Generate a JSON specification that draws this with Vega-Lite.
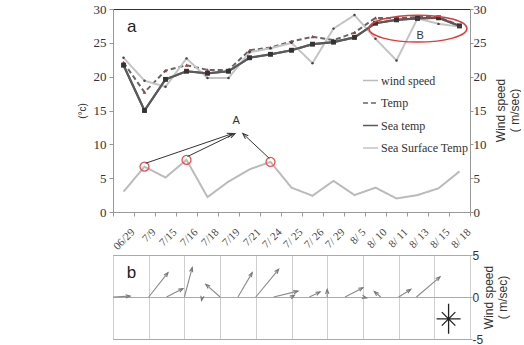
{
  "$schema": "https://vega.github.io/schema/vega-lite/v6.json",
  "background": "white",
  "padding": {"left": 76, "top": 2, "right": 0, "bottom": 0},
  "spacing": 43,
  "bounds": "flush",
  "config": {"font": "Liberation Serif"},
  "datasets": {
    "daily": [
      {"i": 0, "date": "06/29", "wind speed": 3.0, "Temp": 22.1, "Sea temp": 21.7, "Sea Surface Temp": 22.8},
      {"i": 1, "date": "7/9", "wind speed": 6.7, "Temp": 17.7, "Sea temp": 15.0, "Sea Surface Temp": 19.4},
      {"i": 2, "date": "7/15", "wind speed": 5.1, "Temp": 20.9, "Sea temp": 19.6, "Sea Surface Temp": 18.5},
      {"i": 3, "date": "7/16", "wind speed": 7.7, "Temp": 21.7, "Sea temp": 20.8, "Sea Surface Temp": 22.7},
      {"i": 4, "date": "7/18", "wind speed": 2.2, "Temp": 21.0, "Sea temp": 20.5, "Sea Surface Temp": 19.8},
      {"i": 5, "date": "7/19", "wind speed": 4.5, "Temp": 21.0, "Sea temp": 20.8, "Sea Surface Temp": 19.8},
      {"i": 6, "date": "7/21", "wind speed": 6.3, "Temp": 23.9, "Sea temp": 22.8, "Sea Surface Temp": 23.6},
      {"i": 7, "date": "7/ 24", "wind speed": 7.4, "Temp": 24.3, "Sea temp": 23.3, "Sea Surface Temp": 24.2},
      {"i": 8, "date": "7/ 25", "wind speed": 3.6, "Temp": 25.2, "Sea temp": 23.9, "Sea Surface Temp": 25.0},
      {"i": 9, "date": "7/ 26", "wind speed": 2.4, "Temp": 25.9, "Sea temp": 24.8, "Sea Surface Temp": 22.0},
      {"i": 10, "date": "7/ 29", "wind speed": 4.6, "Temp": 25.4, "Sea temp": 25.1, "Sea Surface Temp": 27.1},
      {"i": 11, "date": "8/ 5", "wind speed": 2.5, "Temp": 26.5, "Sea temp": 25.8, "Sea Surface Temp": 29.1},
      {"i": 12, "date": "8/ 10", "wind speed": 3.6, "Temp": 28.7, "Sea temp": 27.9, "Sea Surface Temp": 25.6},
      {"i": 13, "date": "8/ 11", "wind speed": 2.0, "Temp": 28.6, "Sea temp": 28.4, "Sea Surface Temp": 22.4},
      {"i": 14, "date": "8/ 13", "wind speed": 2.5, "Temp": 28.8, "Sea temp": 28.6, "Sea Surface Temp": 28.6},
      {"i": 15, "date": "8/ 15", "wind speed": 3.5, "Temp": 28.8, "Sea temp": 28.7, "Sea Surface Temp": 27.8},
      {"i": 16, "date": "8/ 18", "wind speed": 6.0, "Temp": 27.6, "Sea temp": 27.5, "Sea Surface Temp": 27.4}
    ],
    "pointers": [
      {"i0": 1.05, "v0": 7.2, "i1": 5.2, "v1": 11.6, "dir": 71},
      {"i0": 3.05, "v0": 8.2, "i1": 5.31, "v1": 11.6, "dir": 64},
      {"i0": 6.95, "v0": 7.9, "i1": 5.68, "v1": 11.6, "dir": -47}
    ],
    "notes": [
      {"i": 0.39, "v": 27.3, "label": "a", "kind": "panel"},
      {"i": 5.36, "v": 13.4, "label": "A", "kind": "mark"},
      {"i": 14.13, "v": 26.0, "label": "B", "kind": "mark"}
    ],
    "vectors": [
      {"day": 0, "tipDay": 2.4, "base": 0, "v": 0.1, "dir": 87},
      {"day": 5, "tipDay": 7.7, "base": 0, "v": 2.9, "dir": 38},
      {"day": 7.5, "tipDay": 9.8, "base": 0, "v": 1.0, "dir": 63},
      {"day": 10, "tipDay": 11.1, "base": 0, "v": 3.5, "dir": 15},
      {"day": 12.5, "tipDay": 12.4, "base": 0, "v": -0.4, "dir": 192},
      {"day": 15, "tipDay": 13.0, "base": 0, "v": 1.5, "dir": -49},
      {"day": 17.5, "tipDay": 19.5, "base": 0, "v": 2.9, "dir": 30},
      {"day": 20, "tipDay": 23.2, "base": 0, "v": 3.3, "dir": 40},
      {"day": 22.5, "tipDay": 25.9, "base": 0, "v": 0.7, "dir": 76},
      {"day": 25, "tipDay": 25.4, "base": 0, "v": 0.2, "dir": 60},
      {"day": 27.5, "tipDay": 29.0, "base": 0, "v": 0.6, "dir": 65},
      {"day": 30, "tipDay": 30.0, "base": 0, "v": 0.9, "dir": 0},
      {"day": 32.5, "tipDay": 35.0, "base": 0, "v": 1.1, "dir": 63},
      {"day": 35, "tipDay": 35.5, "base": 0, "v": -0.1, "dir": 103},
      {"day": 37.5, "tipDay": 36.6, "base": 0, "v": 0.65, "dir": -49},
      {"day": 40, "tipDay": 41.7, "base": 0, "v": 0.9, "dir": 58},
      {"day": 42.5, "tipDay": 45.8, "base": 0, "v": 2.4, "dir": 49}
    ]
  },
  "vconcat": [
    {
      "width": 357,
      "height": 203,
      "view": {"stroke": "#333"},
      "resolve": {"scale": {"x": "independent"}, "axis": {"x": "independent", "y": "independent"}},
      "layer": [
        {
          "data": {"name": "daily"},
          "transform": [{"fold": ["wind speed", "Temp", "Sea temp", "Sea Surface Temp"], "as": ["series", "value"]}],
          "mark": {"type": "line"},
          "encoding": {
            "x": {
              "field": "date", "type": "ordinal", "sort": null,
              "scale": {"type": "band", "paddingInner": 0, "paddingOuter": 0},
              "axis": {
                "title": null, "grid": false, "tickBand": "extent",
                "labelAngle": -45, "labelAlign": "right", "labelBaseline": "top",
                "labelFont": "Liberation Serif", "labelFontSize": 11, "labelColor": "#444",
                "labelPadding": 10, "labelOffset": 5, "labelOverlap": false,
                "tickSize": 4, "tickColor": "#999", "domainColor": "#999"
              }
            },
            "y": {
              "field": "value", "type": "quantitative",
              "scale": {"domain": [0, 30], "nice": false},
              "axis": {
                "orient": "left", "values": [0, 5, 10, 15, 20, 25, 30], "grid": false,
                "title": "(°c)", "titleFont": "Liberation Sans", "titleFontSize": 10, "titleFontWeight": "normal", "titleColor": "#333", "titlePadding": 6,
                "labelFont": "Liberation Serif", "labelFontSize": 13, "labelColor": "#333", "labelPadding": 3,
                "tickSize": 4, "tickColor": "#999", "domainColor": "#999"
              }
            },
            "color": {
              "field": "series", "type": "nominal",
              "scale": {"domain": ["wind speed", "Temp", "Sea temp", "Sea Surface Temp"], "range": ["#bbbbbb", "#666666", "#5a5a5a", "#c4c4c4"]},
              "legend": {"orient": "none", "legendX": 249, "legendY": 63, "title": null, "labelFont": "Liberation Serif", "labelFontSize": 12, "labelColor": "#333", "symbolType": "stroke", "symbolSize": 225, "symbolStrokeWidth": 1.5, "rowPadding": 7.5, "padding": 0, "labelOffset": 2}
            },
            "strokeDash": {
              "field": "series", "type": "nominal",
              "scale": {"domain": ["wind speed", "Temp", "Sea temp", "Sea Surface Temp"], "range": [[1, 0], [5, 3], [1, 0], [1, 0]]},
              "legend": {"orient": "none", "legendX": 249, "legendY": 63, "title": null, "labelFont": "Liberation Serif", "labelFontSize": 12, "labelColor": "#333", "symbolType": "stroke", "symbolSize": 225, "symbolStrokeWidth": 1.5, "rowPadding": 7.5, "padding": 0, "labelOffset": 2}
            }
          }
        },
        {
          "data": {"name": "daily"},
          "mark": {"type": "line", "color": "#5a5a5a", "strokeWidth": 2.2},
          "encoding": {
            "x": {"field": "date", "type": "ordinal", "sort": null, "scale": {"type": "band", "paddingInner": 0, "paddingOuter": 0}, "axis": null},
            "y": {"field": "Sea temp", "type": "quantitative", "axis": null}
          }
        },
        {
          "data": {"name": "daily"},
          "mark": {"type": "point", "shape": "triangle-up", "filled": true, "color": "#a0413f", "size": 14, "opacity": 1},
          "encoding": {
            "x": {"field": "date", "type": "ordinal", "sort": null, "scale": {"type": "band", "paddingInner": 0, "paddingOuter": 0}, "axis": null},
            "y": {"field": "Temp", "type": "quantitative", "axis": null}
          }
        },
        {
          "data": {"name": "daily"},
          "mark": {"type": "point", "shape": "square", "filled": true, "color": "#333333", "size": 24, "opacity": 1},
          "encoding": {
            "x": {"field": "date", "type": "ordinal", "sort": null, "scale": {"type": "band", "paddingInner": 0, "paddingOuter": 0}, "axis": null},
            "y": {"field": "Sea temp", "type": "quantitative", "axis": null}
          }
        },
        {
          "data": {"name": "daily"},
          "mark": {"type": "point", "shape": "circle", "filled": true, "color": "#444444", "size": 6, "opacity": 1},
          "encoding": {
            "x": {"field": "date", "type": "ordinal", "sort": null, "scale": {"type": "band", "paddingInner": 0, "paddingOuter": 0}, "axis": null},
            "y": {"field": "Sea Surface Temp", "type": "quantitative", "axis": null}
          }
        },
        {
          "data": {"name": "daily"},
          "transform": [{"filter": {"field": "date", "oneOf": ["7/9", "7/16", "7/ 24"]}}],
          "mark": {"type": "point", "shape": "circle", "filled": false, "stroke": "#e8524f", "strokeWidth": 1.3, "size": 80, "opacity": 1},
          "encoding": {
            "x": {"field": "i", "type": "quantitative", "scale": {"domain": [-0.5, 16.5], "nice": false, "zero": false}, "axis": null},
            "y": {
              "field": "wind speed", "type": "quantitative",
              "axis": {
                "orient": "right", "values": [0, 5, 10, 15, 20, 25, 30], "grid": false,
                "title": ["Wind speed", "( m/sec)"], "titleAngle": 270, "titleAlign": "center", "titleBaseline": "top", "titleX": 25, "titleY": 101,
                "titleFont": "Liberation Sans", "titleFontSize": 12, "titleFontWeight": "normal", "titleColor": "#333",
                "labelFont": "Liberation Serif", "labelFontSize": 13, "labelColor": "#333", "labelPadding": 0,
                "tickSize": 3, "tickColor": "#999", "domainColor": "#999"
              }
            }
          }
        },
        {
          "data": {"name": "pointers"},
          "mark": {"type": "rule", "color": "#333", "strokeWidth": 1},
          "encoding": {
            "x": {"field": "i0", "type": "quantitative", "scale": {"domain": [-0.5, 16.5], "nice": false, "zero": false}, "axis": null},
            "x2": {"field": "i1"},
            "y": {"field": "v0", "type": "quantitative", "axis": null},
            "y2": {"field": "v1"}
          }
        },
        {
          "data": {"name": "pointers"},
          "mark": {"type": "point", "shape": "M-0.6,1.6L0,0L0.6,1.6", "filled": false, "stroke": "#333", "strokeWidth": 1, "size": 49, "opacity": 1},
          "encoding": {
            "x": {"field": "i1", "type": "quantitative", "scale": {"domain": [-0.5, 16.5], "nice": false, "zero": false}, "axis": null},
            "y": {"field": "v1", "type": "quantitative", "axis": null},
            "angle": {"field": "dir", "type": "quantitative", "scale": null}
          }
        },
        {
          "data": {"values": [{"i": 14.02, "v": 27.1}]},
          "mark": {"type": "point", "shape": "M-1,0A1,0.275 0 1,1 1,0A1,0.275 0 1,1 -1,0Z", "filled": false, "stroke": "#e03a3a", "strokeWidth": 1.5, "size": 9604, "opacity": 1},
          "encoding": {
            "x": {"field": "i", "type": "quantitative", "scale": {"domain": [-0.5, 16.5], "nice": false, "zero": false}, "axis": null},
            "y": {"field": "v", "type": "quantitative", "axis": null}
          }
        },
        {
          "data": {"name": "notes"},
          "transform": [{"filter": "datum.kind === 'mark'"}],
          "mark": {"type": "text", "font": "Liberation Sans", "fontSize": 11, "color": "#333"},
          "encoding": {
            "x": {"field": "i", "type": "quantitative", "scale": {"domain": [-0.5, 16.5], "nice": false, "zero": false}, "axis": null},
            "y": {"field": "v", "type": "quantitative", "axis": null},
            "text": {"field": "label"}
          }
        },
        {
          "data": {"name": "notes"},
          "transform": [{"filter": "datum.kind === 'panel'"}],
          "mark": {"type": "text", "font": "Liberation Sans", "fontSize": 17, "color": "#222"},
          "encoding": {
            "x": {"field": "i", "type": "quantitative", "scale": {"domain": [-0.5, 16.5], "nice": false, "zero": false}, "axis": null},
            "y": {"field": "v", "type": "quantitative", "axis": null},
            "text": {"field": "label"}
          }
        }
      ]
    },
    {
      "width": 357,
      "height": 84,
      "view": {"stroke": "#bbb"},
      "resolve": {"axis": {"x": "independent", "y": "independent"}},
      "layer": [
        {
          "data": {"name": "vectors"},
          "mark": {"type": "rule", "color": "#8a8a8a", "strokeWidth": 1.1},
          "encoding": {
            "x": {
              "field": "day", "type": "quantitative",
              "scale": {"domain": [0, 50], "nice": false},
              "axis": {"title": null, "values": [0, 5, 10, 15, 20, 25, 30, 35, 40, 45, 50], "grid": true, "gridColor": "#cfcfcf", "labels": false, "ticks": false, "domain": false}
            },
            "x2": {"field": "tipDay"},
            "y": {
              "field": "base", "type": "quantitative",
              "scale": {"domain": [-5, 5], "nice": false},
              "axis": {
                "orient": "right", "values": [-5, 0, 5], "grid": true, "gridColor": "#aaaaaa",
                "labelExpr": "datum.value + ''",
                "title": ["Wind speed", "( m/sec)"], "titleAngle": 270, "titleAlign": "center", "titleBaseline": "top", "titleX": 13, "titleY": 42,
                "titleFont": "Liberation Sans", "titleFontSize": 12, "titleFontWeight": "normal", "titleColor": "#333",
                "labelFont": "Liberation Sans", "labelFontSize": 12, "labelColor": "#333", "labelPadding": 0,
                "tickSize": 2, "tickColor": "#8bbf9a", "domain": false
              }
            },
            "y2": {"field": "v"}
          }
        },
        {
          "data": {"name": "vectors"},
          "mark": {"type": "point", "shape": "M-0.6,1.6L0,0L0.6,1.6", "filled": false, "stroke": "#777", "strokeWidth": 1.1, "size": 30, "opacity": 1},
          "encoding": {
            "x": {"field": "tipDay", "type": "quantitative", "axis": null},
            "y": {"field": "v", "type": "quantitative", "axis": null},
            "angle": {"field": "dir", "type": "quantitative", "scale": null}
          }
        },
        {
          "data": {"values": [{"day": 47, "v": -2.6}]},
          "mark": {"type": "point", "shape": "M0,-1L0,1M-0.8,0L0.8,0M-0.45,-0.45L0.45,0.45M-0.45,0.45L0.45,-0.45", "filled": false, "stroke": "#222", "strokeWidth": 1.3, "size": 900, "opacity": 1},
          "encoding": {
            "x": {"field": "day", "type": "quantitative", "axis": null},
            "y": {"field": "v", "type": "quantitative", "axis": null}
          }
        },
        {
          "data": {"values": [{"day": 2.6, "v": 2.8, "label": "b"}]},
          "mark": {"type": "text", "font": "Liberation Sans", "fontSize": 17, "color": "#222"},
          "encoding": {
            "x": {"field": "day", "type": "quantitative", "axis": null},
            "y": {"field": "v", "type": "quantitative", "axis": null},
            "text": {"field": "label"}
          }
        }
      ]
    }
  ]
}
